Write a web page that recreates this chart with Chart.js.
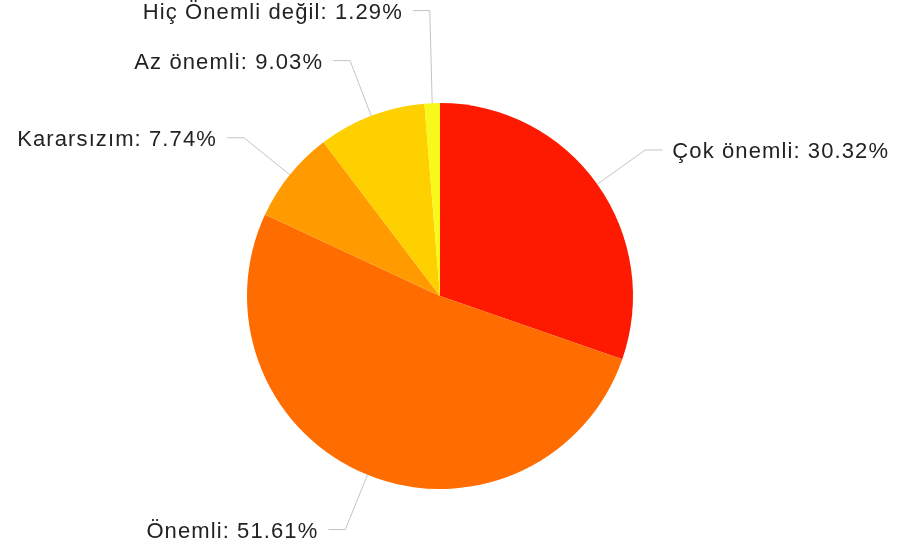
<!DOCTYPE html>
<html>
<head>
<meta charset="utf-8">
<script src="https://cdn.jsdelivr.net/npm/chart.js@4"></script>
<style>
  html, body { margin: 0; padding: 0; background: #fff; }
  #wrap { width: 900px; height: 546px; }
</style>
</head>
<body>
<div id="wrap"><canvas id="pieChart" width="900" height="546"></canvas></div>
<script>
// Answers (counts) - percentages are computed from these
const categories = ['Çok önemli', 'Önemli', 'Kararsızım', 'Az önemli', 'Hiç Önemli değil'];
const counts = [47, 80, 12, 14, 2];
const sliceColors = ['#fe1a00', '#ff6d00', '#ff9b00', '#ffd000', '#f8f81a'];

const total = counts.reduce((a, b) => a + b, 0);

// Draw outside labels with elbow leader lines
const leaderLabels = {
    id: 'leaderLabels',
    afterDatasetsDraw(chart) {
        const ctx = chart.ctx;
        const arcs = chart.getDatasetMeta(0).data;
        const elbowR = 252;
        const items = arcs.map((arc, i) => {
            const mid = (arc.startAngle + arc.endAngle) / 2;
            const cos = Math.cos(mid), sin = Math.sin(mid);
            return {
                i: i,
                right: cos >= 0,
                sx: arc.x + cos * arc.outerRadius,
                sy: arc.y + sin * arc.outerRadius,
                ex: arc.x + cos * elbowR,
                ey: arc.y + sin * elbowR
            };
        });

        // keep labels on the same side apart
        [true, false].forEach(side => {
            const list = items.filter(it => it.right === side).sort((a, b) => b.ey - a.ey);
            for (let k = 1; k < list.length; k++) {
                if (list[k].ey > list[k - 1].ey - 50) list[k].ey = list[k - 1].ey - 50;
            }
        });

        ctx.save();
        ctx.font = '22px "Liberation Sans", Arial, sans-serif';
        if ('letterSpacing' in ctx) ctx.letterSpacing = '1.1px';
        ctx.textBaseline = 'middle';
        items.forEach(it => {
            const hx = it.right ? it.ex + 17 : it.ex - 17;
            ctx.strokeStyle = '#c4c4c4';
            ctx.lineWidth = 1;
            ctx.beginPath();
            ctx.moveTo(it.sx, it.sy);
            ctx.lineTo(it.ex, it.ey);
            ctx.lineTo(hx, it.ey);
            ctx.stroke();

            const pct = (counts[it.i] / total * 100).toFixed(2);
            ctx.fillStyle = '#222';
            ctx.textAlign = it.right ? 'left' : 'right';
            ctx.fillText(categories[it.i] + ': ' + pct + '%', it.right ? hx + 10 : hx - 10, it.ey + 2);
        });
        ctx.restore();
    }
};

new Chart(document.getElementById('pieChart'), {
    type: 'pie',
    data: {
        labels: categories,
        datasets: [{
            data: counts,
            backgroundColor: sliceColors,
            borderWidth: 0,
            hoverOffset: 0
        }]
    },
    options: {
        responsive: false,
        animation: false,
        layout: { padding: { top: 103, bottom: 57, left: 100, right: 120 } },
        plugins: {
            legend: { display: false },
            tooltip: { enabled: false }
        }
    },
    plugins: [leaderLabels]
});
</script>
</body>
</html>
